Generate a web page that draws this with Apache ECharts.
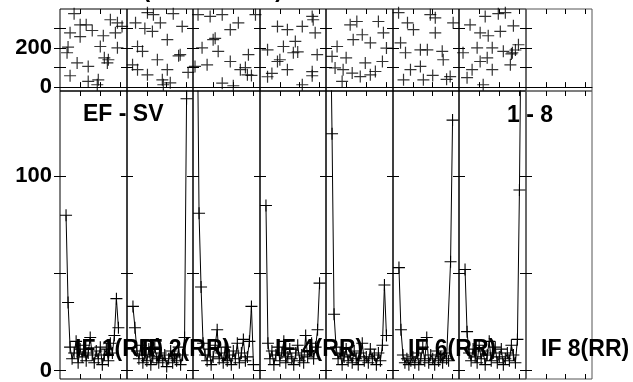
<!DOCTYPE html>
<html><head><meta charset="utf-8">
<script src="https://cdn.jsdelivr.net/npm/echarts@6/dist/echarts.min.js"></script>
<style>html,body{margin:0;padding:0;background:#fff}#c{width:633px;height:382px}</style>
</head><body><div id="c"></div>
<script>
// ---------------- DATA ----------------
const panelNames = ['IF 1(RR)', 'IF 2(RR)', 'IF 3(RR)', 'IF 4(RR)', 'IF 5(RR)', 'IF 6(RR)', 'IF 7(RR)', 'IF 8(RR)'];
const shownPanelLabels = ['IF 1(RR)', 'IF 2(RR)', 'IF 4(RR)', 'IF 6(RR)', 'IF 8(RR)'];
const topYTicks = [0, 100, 200, 300];
const topYLabels = [0, 200];
const bottomYTicks = [0, 50, 100];
const bottomYLabels = [0, 100];
const xTicks = [10, 20, 30];

// upper panel: scattered points [sample, value] per interval
const top1 = [[7,376],[25,345],[10,319],[13,319],[16,290],[5,278],[10,258],[28.5,329],[27.5,278],[21.5,263],[20,208],[28.5,201],[3.5,176],[8.5,124],[14,106],[23.5,124],[24,140],[5,58],[14,29],[19,37],[18.5,12],[30.8,311],[4,205],[22,150]];
const top2 = [[10.3,381],[13.3,371],[23.3,376],[4.3,329],[16.8,329],[12.8,285],[27.8,311],[20.3,243],[5.3,208],[7.8,183],[26.8,166],[15.3,140],[2.8,114],[5.3,89],[20.3,89],[30.8,75],[10.3,63],[17.8,37],[21.8,22],[18.3,12],[26,160],[9,300]];
const top3 = [[2.5,371],[8.5,362],[14.5,371],[31,371],[22.5,329],[18.5,294],[10,243],[4.5,201],[12.5,183],[27.5,166],[1,106],[7,114],[18.5,131],[23.5,89],[27,63],[14.5,20],[20,7],[26,100],[11,250],[29,60]];
const top4 = [[8.8,311],[13.8,294],[21.3,311],[26.3,362],[17.8,234],[11.8,208],[3.8,191],[16.8,176],[8.8,131],[13.8,89],[3.8,53],[26.3,58],[21.3,12],[26.8,345],[27.8,278],[28.8,166],[26.3,79],[10,140],[19,180],[6,70]];
const top5 = [[15.3,336],[12,319],[26,336],[28.5,278],[18,268],[13.5,243],[22,227],[5.5,208],[3,157],[28,131],[19.5,124],[4.5,98],[8.5,89],[13,72],[17,54],[8,29],[24.5,80],[22,63],[30,200],[10,150]];
const top6 = [[2.8,381],[7.3,329],[10.3,294],[18.8,371],[21.3,355],[30.3,329],[21.3,278],[3.8,227],[6.3,176],[13.8,191],[17.3,191],[24.8,183],[25.3,140],[13.8,106],[8.8,89],[28.8,54],[5.3,37],[15.3,37],[20,60],[27,40]];
const top7 = [[13,362],[19.5,376],[23,381],[5.5,319],[27,314],[10.5,278],[20.5,285],[14.5,263],[2,176],[9,201],[16.5,201],[22,183],[29.5,217],[26.5,176],[14,150],[10.5,131],[25.5,114],[16.5,89],[6.5,89],[4,48],[12,12],[28,190],[26,170]];
const topSeriesData = [top1, top2, top3, top4, top5, top6, top7];

// lower panel: EF - SV line per interval (values), first sample index per interval
const bottomStart = [3, 3, 2, 3, 2, 3, 3];
const low1 = [80, 35, 12, 6, 9, 15, 4, 11, 7, 13, 5, 9, 17, 8, 4, 10, 6, 12, 3, 8, 11, 5, 14, 9, 18, 37, 22];
const low2 = [33, 22, 10, 6, 13, 4, 8, 5, 11, 3, 7, 12, 6, 4, 9, 5, 8, 2, 6, 10, 4, 7, 5, 12, 3, 8, 17, 140, 200];
const low3 = [200, 81, 43, 14, 8, 5, 11, 3, 7, 13, 21, 6, 9, 4, 12, 5, 8, 3, 10, 6, 14, 4, 9, 16, 5, 7, 15, 33, 3];
const low4 = [85, 14, 6, 10, 3, 8, 12, 5, 9, 15, 4, 7, 11, 6, 3, 9, 13, 5, 8, 4, 18, 7, 10, 14, 6, 12, 21, 45];
const low5 = [200, 122, 29, 12, 6, 9, 3, 7, 11, 5, 8, 4, 10, 6, 3, 9, 14, 5, 7, 4, 11, 6, 8, 3, 9, 5, 13, 44, 18];
const low6 = [53, 21, 8, 4, 6, 3, 5, 7, 4, 9, 3, 6, 12, 5, 17, 4, 8, 6, 3, 10, 5, 7, 4, 9, 6, 5, 56, 129];
const low7 = [52, 20, 9, 5, 11, 7, 4, 13, 6, 10, 3, 8, 15, 5, 9, 12, 4, 7, 11, 3, 6, 9, 5, 13, 8, 4, 16, 93, 200];
const bottomSeriesData = [low1, low2, low3, low4, low5, low6, low7];

// ---------------- LAYOUT ----------------
const FONT = '"Liberation Sans", Arial, Helvetica, sans-serif';
const plotLeft = 60, panelW = 66.5, nPanels = 8;
const topGridTop = 9, splitY = 91, bottomGridBottom = 379;
const xMax = 33.25;
const PLUS = 'path://M0,5L10,5M5,0L5,10';

const grids = [], xAxes = [], yAxes = [], series = [];
for (let p = 0; p < nPanels; p++) {
  const l = Math.round(plotLeft + p * panelW);
  const r = Math.round(plotLeft + (p + 1) * panelW);
  const rows = [
    {top: topGridTop, height: splitY - topGridTop, min: -20, max: 400, ticks: topYTicks, labels: topYLabels, onZero: true},
    {top: splitY, height: bottomGridBottom - splitY, min: -4.4, max: 144, ticks: bottomYTicks, labels: bottomYLabels, onZero: false}
  ];
  rows.forEach((row, ri) => {
    const gi = grids.length;
    grids.push({left: l, width: r - l, top: row.top, height: row.height, show: true,
      borderColor: p === nPanels - 1 ? '#555' : '#000', borderWidth: 1, backgroundColor: 'transparent',
      containLabel: false, outerBoundsMode: 'none'});
    const tickStyle = {color: '#000', width: 1};
    xAxes.push({gridIndex: gi, type: 'value', min: 0, max: xMax, position: 'bottom',
      axisLine: {show: row.onZero, onZero: row.onZero, lineStyle: {color: '#000', width: 1}},
      axisTick: {show: true, inside: true, length: 5, customValues: xTicks, lineStyle: tickStyle},
      axisLabel: {show: false}, splitLine: {show: false}});
    xAxes.push({gridIndex: gi, type: 'value', min: 0, max: xMax, position: 'top',
      axisLine: {show: false, onZero: false},
      axisTick: {show: true, inside: true, length: 5, customValues: xTicks, lineStyle: tickStyle},
      axisLabel: {show: false}, splitLine: {show: false}});
    yAxes.push({gridIndex: gi, type: 'value', min: row.min, max: row.max, position: 'left',
      axisLine: {show: false},
      axisTick: {show: true, inside: true, length: 6, customValues: row.ticks, lineStyle: tickStyle},
      axisLabel: {show: p === 0, customValues: row.labels, margin: 8, color: '#000',
        fontFamily: FONT, fontWeight: 'bold', fontSize: 22},
      splitLine: {show: false}});
    yAxes.push({gridIndex: gi, type: 'value', min: row.min, max: row.max, position: 'right',
      axisLine: {show: false},
      axisTick: {show: true, inside: true, length: 6, customValues: row.ticks, lineStyle: tickStyle},
      axisLabel: {show: false}, splitLine: {show: false}});
    const xi = xAxes.length - 2, yi = yAxes.length - 2;
    if (p < topSeriesData.length) {
      if (ri === 0) {
        series.push({type: 'scatter', xAxisIndex: xi, yAxisIndex: yi, data: topSeriesData[p],
          symbol: PLUS, symbolSize: 12, silent: true, clip: true,
          itemStyle: {color: '#000', borderColor: '#000', borderWidth: 1.2}});
      } else {
        const vals = bottomSeriesData[p];
        const data = vals.map((v, i) => [bottomStart[p] + i, v]);
        series.push({type: 'line', xAxisIndex: xi, yAxisIndex: yi, data: data,
          symbol: PLUS, symbolSize: 12, showSymbol: true, showAllSymbol: true, silent: true, clip: true,
          lineStyle: {color: '#000', width: 1},
          itemStyle: {color: '#000', borderColor: '#000', borderWidth: 1.1}});
      }
    }
  });
}

const graphics = [];
graphics.push({type: 'text', right: 633 - 283, top: -21, z: 100,
  style: {text: 'Stroke Volume Series (All Patients)', font: 'bold 23px ' + FONT, fill: '#000'}});
graphics.push({type: 'text', left: 83, top: 103, z: 100,
  style: {text: 'EF - SV', font: 'bold 23px ' + FONT, fill: '#000'}});
graphics.push({type: 'text', left: 507, top: 104, z: 100,
  style: {text: '1 - 8', font: 'bold 23px ' + FONT, fill: '#000'}});
panelNames.forEach((name, k) => {
  if (shownPanelLabels.indexOf(name) < 0) return;
  graphics.push({type: 'text', left: Math.round(75 + k * panelW), top: 338, z: 100,
    style: {text: name, font: 'bold 23px ' + FONT, fill: '#000'}});
});

const chart = echarts.init(document.getElementById('c'), null, {renderer: 'canvas'});
chart.setOption({
  animation: false,
  backgroundColor: '#fff',
  grid: grids, xAxis: xAxes, yAxis: yAxes, series: series,
  graphic: graphics
});
</script></body></html>
